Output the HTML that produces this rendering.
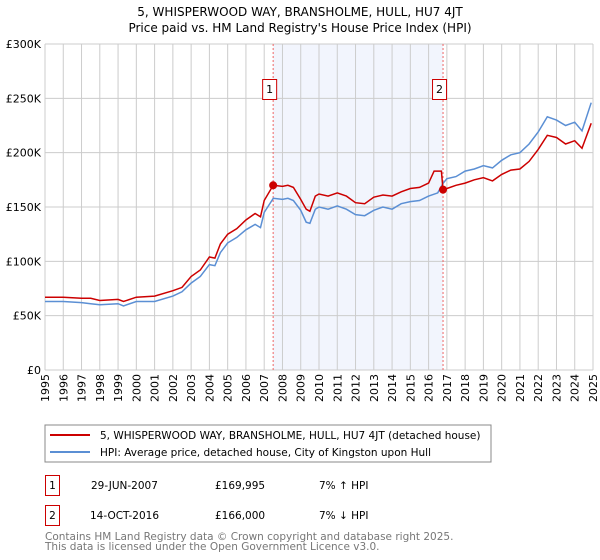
<!DOCTYPE html>
<html><head><meta charset="utf-8"><style>
body{margin:0;background:#fff;font-family:"DejaVu Sans","Liberation Sans",sans-serif;}
#wrap{position:relative;width:600px;height:560px;overflow:hidden;}
</style></head><body>
<div id="wrap">
<svg id="chart" width="600" height="560" xmlns="http://www.w3.org/2000/svg" font-family="DejaVu Sans, Liberation Sans, sans-serif">
<text x="300" y="16" text-anchor="middle" font-size="12" fill="#000">5, WHISPERWOOD WAY, BRANSHOLME, HULL, HU7 4JT</text>
<text x="300" y="32" text-anchor="middle" font-size="12" fill="#000">Price paid vs. HM Land Registry's House Price Index (HPI)</text>
<g id="plot"></g>
<rect x="45" y="425" width="446" height="37" fill="#fff" stroke="#888"/>
<line x1="50" y1="435" x2="90" y2="435" stroke="#cc0000" stroke-width="2"/>
<text x="100" y="439" font-size="10.5">5, WHISPERWOOD WAY, BRANSHOLME, HULL, HU7 4JT (detached house)</text>
<line x1="50" y1="452" x2="90" y2="452" stroke="#5b8fd4" stroke-width="2"/>
<text x="100" y="456" font-size="10.5">HPI: Average price, detached house, City of Kingston upon Hull</text>
<g>
<rect x="45.5" y="475.5" width="14" height="20" fill="#fff" stroke="#cc0000"/>
<text x="52.5" y="489" font-size="10.5" text-anchor="middle">1</text>
<text x="91" y="489" font-size="10.5">29-JUN-2007</text>
<text x="215" y="489" font-size="10.5">£169,995</text>
<text x="319" y="489" font-size="10.5">7% ↑ HPI</text>
</g>
<g>
<rect x="45.5" y="505.5" width="14" height="20" fill="#fff" stroke="#cc0000"/>
<text x="52.5" y="519" font-size="10.5" text-anchor="middle">2</text>
<text x="90" y="519" font-size="10.5">14-OCT-2016</text>
<text x="215" y="519" font-size="10.5">£166,000</text>
<text x="319" y="519" font-size="10.5">7% ↓ HPI</text>
</g>
<text x="45" y="540" font-size="10.5" fill="#777">Contains HM Land Registry data © Crown copyright and database right 2025.</text>
<text x="45" y="550" font-size="10.5" fill="#777">This data is licensed under the Open Government Licence v3.0.</text>
</svg>
</div>
<script>
const yearTicks=[1995,1996,1997,1998,1999,2000,2001,2002,2003,2004,2005,2006,2007,2008,2009,2010,2011,2012,2013,2014,2015,2016,2017,2018,2019,2020,2021,2022,2023,2024,2025];
const valueTicks=[0,50,100,150,200,250,300];
const valueTickLabels=["£0","£50K","£100K","£150K","£200K","£250K","£300K"];
const hpiDates=[1995,1996,1997,1997.5,1998,1999,1999.3,2000,2001,2002,2002.5,2003,2003.5,2004,2004.3,2004.6,2005,2005.5,2006,2006.5,2006.8,2007,2007.5,2008,2008.3,2008.6,2009,2009.3,2009.5,2009.8,2010,2010.5,2011,2011.5,2012,2012.5,2013,2013.5,2014,2014.5,2015,2015.5,2016,2016.5,2016.8,2017,2017.5,2018,2018.5,2019,2019.5,2020,2020.5,2021,2021.5,2022,2022.5,2023,2023.5,2024,2024.4,2024.9];
const hpiValues=[63,63,62,61,60,61,59,63,63,68,72,80,86,97,96,108,117,122,129,134,131,145,158,157,158,156,147,136,135,148,150,148,151,148,143,142,147,150,148,153,155,156,160,163,172,176,178,183,185,188,186,193,198,200,208,219,233,230,225,228,220,246];
const priceDates=[1995,1996,1997,1997.5,1998,1999,1999.3,2000,2001,2002,2002.5,2003,2003.5,2004,2004.3,2004.6,2005,2005.5,2006,2006.5,2006.8,2007,2007.49,2008,2008.3,2008.6,2009,2009.3,2009.5,2009.8,2010,2010.5,2011,2011.5,2012,2012.5,2013,2013.5,2014,2014.5,2015,2015.5,2016,2016.3,2016.7,2016.79,2017,2017.5,2018,2018.5,2019,2019.5,2020,2020.5,2021,2021.5,2022,2022.5,2023,2023.5,2024,2024.4,2024.9];
const priceValues=[67,67,66,66,64,65,63,67,68,73,76,86,92,104,103,116,125,130,138,144,141,156,170,169,170,168,157,148,146,160,162,160,163,160,154,153,159,161,160,164,167,168,172,183,183,166,167,170,172,175,177,174,180,184,185,192,203,216,214,208,211,204,227];
const sales=[{x:2007.49,v:169.995,label:"1"},{x:2016.79,v:166,label:"2"}];
const X0=45,X1=593,Y0=370,Y1=44;
const xs=d=>X0+(d-1995)/(2025-1995)*(X1-X0);
const ys=v=>Y0-v/300*(Y0-Y1);
const NS="http://www.w3.org/2000/svg";
const g=document.getElementById('plot');
function mk(t,a){const e=document.createElementNS(NS,t);for(const k in a)e.setAttribute(k,a[k]);g.appendChild(e);return e;}
let r=mk('rect',{x:xs(sales[0].x),y:Y1,width:xs(sales[1].x)-xs(sales[0].x),height:Y0-Y1,fill:'#f2f5fd'});


yearTicks.forEach(y=>{const l=mk('line',{x1:xs(y),x2:xs(y),y1:Y1,y2:Y0,stroke:'#cccccc','stroke-width':1});


const t=mk('text',{x:xs(y)+4,y:Y0+4,'font-size':11,'text-anchor':'end',transform:`rotate(-90 ${xs(y)+4} ${Y0+4})`});t.textContent=y;

});
valueTicks.forEach((v,i)=>{const l=mk('line',{x1:X0,x2:X1,y1:ys(v),y2:ys(v),stroke:'#cccccc','stroke-width':1});


const t=mk('text',{x:X0-4,y:ys(v)+4,'font-size':11,'text-anchor':'end'});t.textContent=valueTickLabels[i];

});
sales.forEach(s=>{const l=mk('line',{x1:xs(s.x),x2:xs(s.x),y1:Y1,y2:Y0,stroke:'#ee6666','stroke-width':1,'stroke-dasharray':'2,2'});


const b=mk('rect',{x:xs(s.x)-10.5,y:79.5,width:14,height:20,fill:'#fff',stroke:'#cc0000'});


const t=mk('text',{x:xs(s.x)-3.5,y:93,'font-size':11,'text-anchor':'middle'});t.textContent=s.label;

});
function path(ds,vs){return ds.map((d,i)=>(i?'L':'M')+xs(d).toFixed(1)+','+ys(vs[i]).toFixed(1)).join(' ');}
const hp=mk('path',{d:path(hpiDates,hpiValues),fill:'none',stroke:'#5b8fd4','stroke-width':1.5});


const pp=mk('path',{d:path(priceDates,priceValues),fill:'none',stroke:'#cc0000','stroke-width':1.5});


sales.forEach(s=>{const c=mk('circle',{cx:xs(s.x),cy:ys(s.v),r:4,fill:'#cc0000'});

});
</script>
</body></html>
